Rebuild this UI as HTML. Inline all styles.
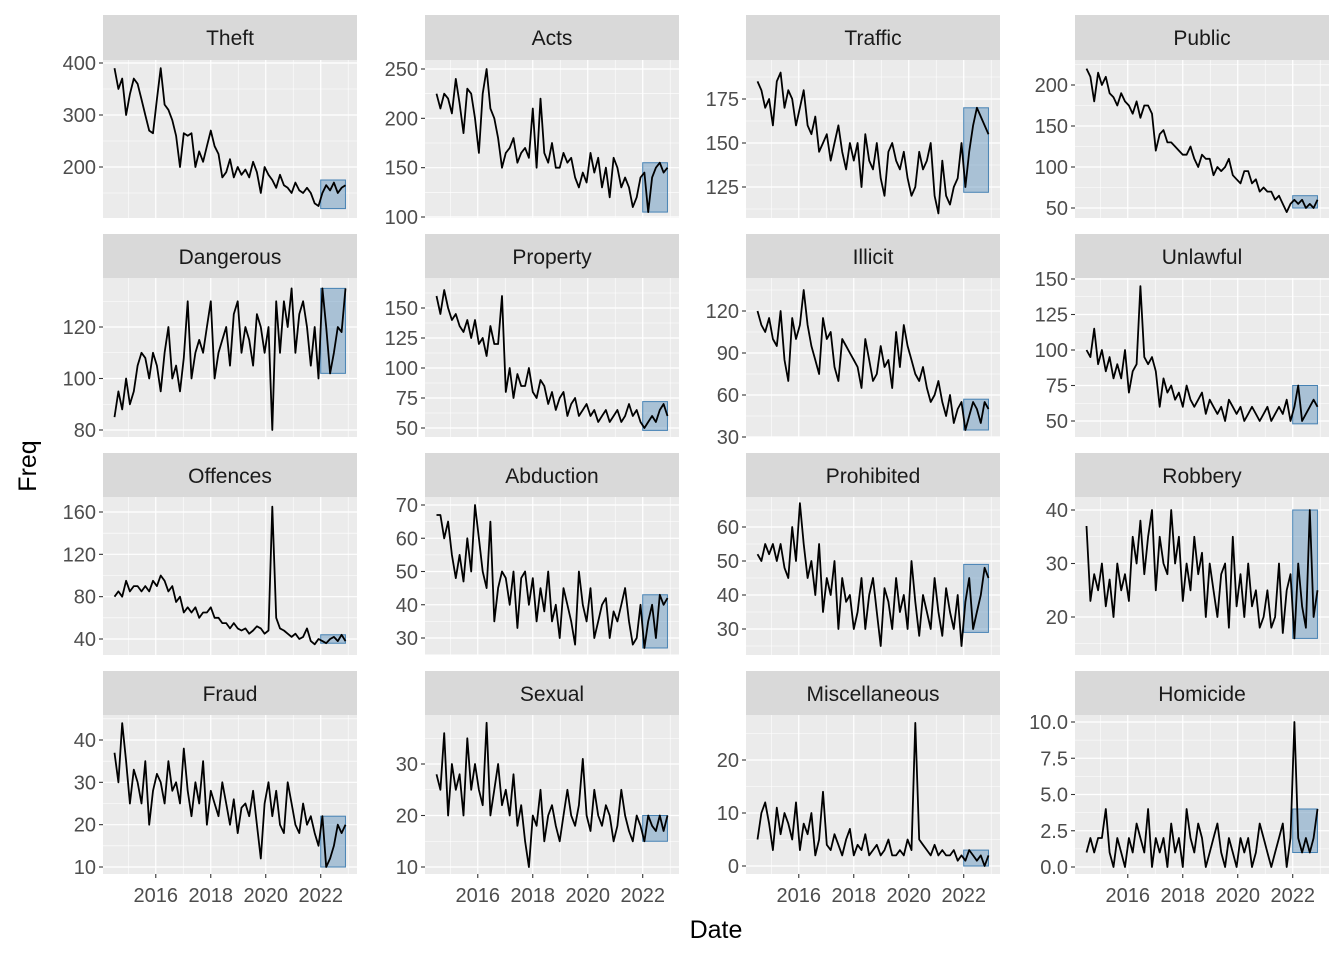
<!DOCTYPE html>
<html><head><meta charset="utf-8"><style>
body{margin:0;background:#fff;}
svg{display:block;font-family:"Liberation Sans",Arial,sans-serif;}
</style></head><body>
<svg id="chart" width="1344" height="960" viewBox="0 0 1344 960"></svg>
<script>
const seriesNames=["Theft","Acts","Traffic","Public","Dangerous","Property","Illicit","Unlawful","Offences","Abduction","Prohibited","Robbery","Fraud","Sexual","Miscellaneous","Homicide"];
const startYear=2014.5, endYear=2022.9;
const forecastStart=2022.0;
const theft=[390,350,370,300,340,370,360,330,300,270,265,330,390,320,310,290,260,200,265,260,265,200,230,210,240,270,240,225,180,190,215,180,200,185,195,180,210,190,150,200,185,175,160,185,165,160,150,170,155,150,160,150,130,125,150,165,155,170,150,160,165];
const acts=[225,210,225,220,205,240,215,185,230,225,200,165,225,250,210,200,180,150,165,170,180,155,165,170,160,210,150,220,165,155,175,150,150,165,155,160,140,130,145,135,165,145,160,130,150,120,160,150,130,140,130,110,120,140,145,105,140,150,155,145,150];
const traffic=[185,180,170,175,160,185,190,170,180,175,160,170,180,160,155,165,145,150,155,140,150,160,145,135,150,140,150,125,155,140,135,150,130,120,145,150,140,135,145,130,120,125,145,135,140,150,120,110,140,120,115,125,130,150,125,145,160,170,165,160,155];
const publicS=[220,210,180,215,200,210,190,185,175,190,180,175,165,180,160,175,175,165,120,140,145,130,130,125,120,115,115,125,110,100,115,110,110,90,100,95,100,110,90,85,80,95,95,80,85,70,75,70,70,60,65,55,45,55,60,55,60,50,55,50,60];
const dangerous=[85,95,88,100,90,95,105,110,108,100,110,105,95,110,120,100,105,95,108,130,100,110,115,110,120,130,100,110,115,120,105,125,130,110,120,115,105,125,120,110,120,80,130,110,130,120,135,110,125,130,120,105,120,100,135,120,102,110,120,118,135];
const property=[160,145,165,150,140,145,135,130,140,125,140,120,125,110,135,120,120,160,80,100,75,95,85,85,100,80,75,90,85,70,80,65,75,80,60,70,75,60,65,70,60,65,55,60,65,55,60,65,55,60,70,60,65,55,50,55,60,55,65,70,60];
const illicit=[120,110,105,115,100,95,120,85,70,115,100,110,135,110,95,85,75,115,100,105,80,70,100,95,90,85,80,65,100,85,70,75,95,80,85,65,105,80,110,95,85,75,70,80,65,55,60,70,55,45,60,40,50,55,35,45,55,50,40,55,50];
const unlawful=[100,95,115,90,100,85,95,80,90,80,100,70,85,90,145,95,90,95,85,60,80,70,75,65,70,60,75,65,60,65,70,55,65,60,55,60,50,65,60,55,60,50,55,60,55,50,55,60,50,55,60,55,65,50,60,75,50,55,60,65,60];
const offences=[80,85,80,95,85,90,90,85,90,85,95,90,100,95,85,90,75,80,65,70,65,70,60,65,65,70,60,60,55,55,50,55,50,48,50,45,48,52,50,45,48,165,60,50,48,45,42,45,40,42,50,38,35,40,38,36,40,42,38,44,38];
const abduction=[67,67,60,65,55,48,55,47,60,50,70,60,50,45,65,35,45,50,48,40,50,33,48,50,40,48,35,45,38,50,35,40,30,45,40,35,28,50,40,35,45,30,35,40,42,30,38,35,40,45,35,28,30,40,27,35,40,30,43,40,42];
const prohibited=[52,50,55,52,55,50,55,48,45,60,50,67,55,45,50,40,55,35,45,40,50,30,45,38,40,30,35,45,30,40,45,35,25,42,38,30,45,35,40,30,50,38,28,40,35,30,45,35,28,42,35,30,40,25,38,45,30,35,40,48,45];
const robbery=[37,23,28,25,30,22,27,20,30,25,28,23,35,30,38,28,35,40,25,35,30,28,40,30,35,23,30,25,35,28,32,20,30,25,20,28,30,18,35,22,28,20,30,22,25,18,20,25,18,20,30,17,25,28,16,30,22,18,40,20,25];
const fraud=[37,30,44,35,25,33,30,25,35,20,28,32,30,25,35,28,30,25,38,28,22,30,25,35,20,28,25,22,30,25,20,26,18,24,25,22,28,20,12,25,30,22,28,20,18,30,25,20,18,25,20,22,18,15,22,10,12,15,20,18,20];
const sexual=[28,25,36,20,30,25,28,20,35,25,30,25,22,38,20,25,30,22,25,20,28,18,22,15,10,20,18,25,15,20,22,18,15,20,25,20,18,22,31,20,17,25,20,18,22,20,15,18,25,20,17,15,20,18,15,20,18,17,20,17,20];
const misc=[5,10,12,8,3,11,6,10,8,5,12,3,8,6,10,2,5,14,4,3,6,4,2,5,7,2,4,3,6,2,3,4,2,3,5,2,2,3,2,5,3,27,5,4,3,2,4,2,3,2,2,3,1,2,1,3,2,1,2,0,2];
const homicide=[1,2,1,2,2,4,1,0,2,1,0,2,1,3,2,1,4,0,2,1,2,0,3,1,2,0,4,2,1,3,2,0,1,2,3,1,0,2,1,0,2,1,2,0,1,3,2,1,0,1,2,3,0,2,10,2,1,2,1,2,4];
const allSeries=[theft,acts,traffic,publicS,dangerous,property,illicit,unlawful,offences,abduction,prohibited,robbery,fraud,sexual,misc,homicide];
const ribbonLo=[120,105,122,50,102,48,35,48,36,27,29,16,10,15,0,1];
const ribbonHi=[175,155,170,65,135,72,57,75,44,43,49,40,22,20,3,4];
const yTickLabels=[["200","300","400"],["100","150","200","250"],["125","150","175"],["50","100","150","200"],["80","100","120"],["50","75","100","125","150"],["30","60","90","120"],["50","75","100","125","150"],["40","80","120","160"],["30","40","50","60","70"],["30","40","50","60"],["20","30","40"],["10","20","30","40"],["10","20","30"],["0","10","20"],["0.0","2.5","5.0","7.5","10.0"]];
const xTickLabels=["2016","2018","2020","2022"];
const xTickValues=[2016,2018,2020,2022];
const xMinorValues=[2015,2017,2019,2021,2023];

const colX=[[103,357],[425,679],[746,1000],[1075,1329]];
const rowY=[[15,60,218],[234,278,437],[453,497,655],[671,715,874]];
const calib=[[400,63,200,167],[250,69,100,217],[175,99,125,187],[200,85,50,208],[120,327,80,430],[150,308,50,428],[120,311,30,437],[150,279,50,421],[160,512,40,639],[70,505,30,638],[60,527,30,629],[40,510,20,617],[40,740,10,867],[30,764,10,867],[20,760,0,866],[10,722,0,867]];
const xDomMin=2014.08, xDomMax=2023.32;
const NS="http://www.w3.org/2000/svg";
const svg=document.getElementById('chart');
function mk(tag,attrs,parent){const e=document.createElementNS(NS,tag);for(const k in attrs)e.setAttribute(k,attrs[k]);(parent||svg).appendChild(e);return e;}

for(let p=0;p<16;p++){
  const c=p%4,r=Math.floor(p/4);
  const [x0,x1]=colX[c];const [sy,y0,y1]=rowY[r];
  const [v1,p1,v2,p2]=calib[p];
  const ys=v=>p1+(v-v1)*(p2-p1)/(v2-v1);
  const xs=t=>x0+(t-xDomMin)/(xDomMax-xDomMin)*(x1-x0);
  const g=mk('g',{});
  
  
  const strip=mk('rect',{x:x0,y:sy,width:x1-x0,height:y0-sy,fill:'#d9d9d9'},g);
  
  
  const st=mk('text',{x:(x0+x1)/2,y:sy+30,'text-anchor':'middle','font-size':'21',fill:'#1a1a1a'},g);
  st.textContent=seriesNames[p];
  
  
  const bg=mk('rect',{x:x0,y:y0,width:x1-x0,height:y1-y0,fill:'#ebebeb'},g);
  
  
  const tv=yTickLabels[p].map(Number);
  const step=tv[1]-tv[0];
  for(let i=-1;i<tv.length;i++){const mv=(i<0?tv[0]:tv[i])+(i<0?-step/2:step/2);const yy=ys(mv);
    if(yy>y0&&yy<y1)mk('line',{x1:x0,x2:x1,y1:yy,y2:yy,stroke:'#fff','stroke-width':0.6},g);}
  xMinorValues.forEach(t=>{const xx=xs(t);if(xx>x0&&xx<x1)mk('line',{x1:xx,x2:xx,y1:y0,y2:y1,stroke:'#fff','stroke-width':0.6},g);});
  tv.forEach((v,i)=>{const yy=ys(v);
    mk('line',{x1:x0,x2:x1,y1:yy,y2:yy,stroke:'#fff','stroke-width':1.2},g);
    mk('line',{x1:x0-4,x2:x0,y1:yy,y2:yy,stroke:'#333','stroke-width':1.1},g);
    const t=mk('text',{x:x0-7,y:yy+7,'text-anchor':'end','font-size':'20',fill:'#4d4d4d'},g);
    t.textContent=yTickLabels[p][i];
    
    });
  xTickValues.forEach((tvv,i)=>{const xx=xs(tvv);
    mk('line',{x1:xx,x2:xx,y1:y0,y2:y1,stroke:'#fff','stroke-width':1.2},g);
    if(r===3){mk('line',{x1:xx,x2:xx,y1:y1,y2:y1+4,stroke:'#333','stroke-width':1.1},g);
      const t=mk('text',{x:xx,y:y1+28,'text-anchor':'middle','font-size':'20',fill:'#4d4d4d'},g);
      t.textContent=xTickLabels[i];
      
      }});
  const rx0=xs(forecastStart),rx1=xs(endYear);
  const rib=mk('rect',{x:rx0,y:ys(ribbonHi[p]),width:rx1-rx0,height:ys(ribbonLo[p])-ys(ribbonHi[p]),fill:'rgba(70,130,180,0.4)',stroke:'#4682b4','stroke-width':1},g);
  
  
  const d=allSeries[p];const n=d.length;
  const pts=d.map((v,i)=>xs(startYear+i*(endYear-startYear)/(n-1)).toFixed(1)+','+ys(v).toFixed(1)).join(' ');
  const pl=mk('polyline',{points:pts,fill:'none',stroke:'#000','stroke-width':1.8,'stroke-linejoin':'round'},g);
  
  
}
const yt=mk('text',{x:0,y:0,transform:'translate(36,466) rotate(-90)','text-anchor':'middle','font-size':'25',fill:'#000'});
yt.textContent='Freq';


const xt=mk('text',{x:716,y:938,'text-anchor':'middle','font-size':'25',fill:'#000'});
xt.textContent='Date';


</script>
</body></html>
